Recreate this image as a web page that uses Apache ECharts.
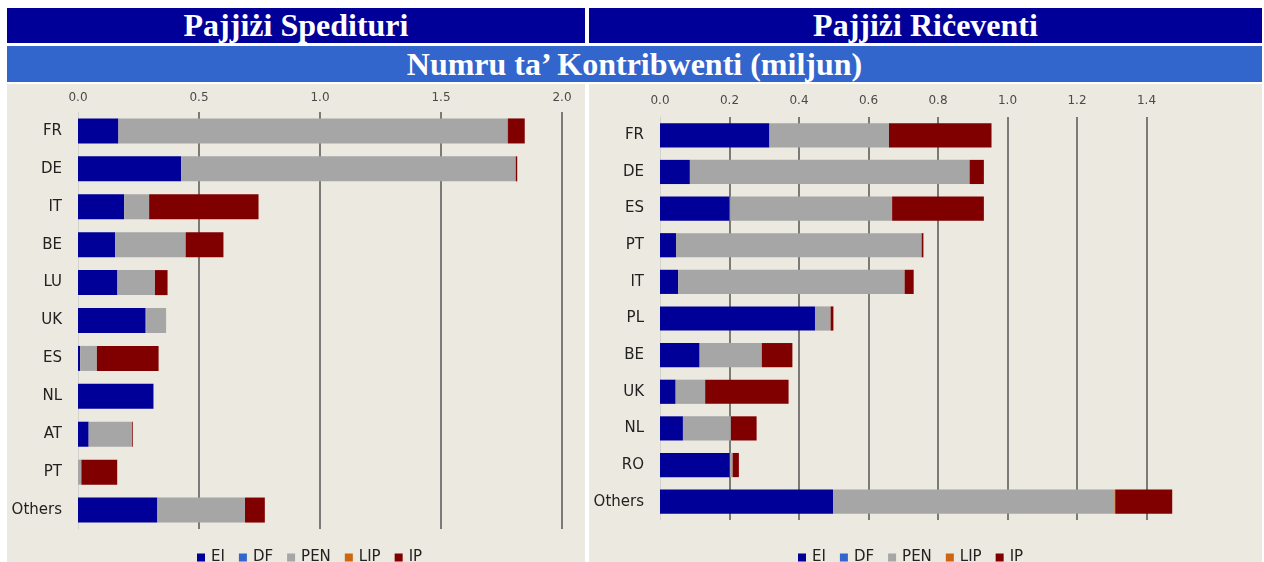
<!DOCTYPE html>
<html>
<head>
<meta charset="utf-8">
<script src="https://cdn.jsdelivr.net/npm/echarts@6/dist/echarts.min.js"></script>
<style>
  html, body { margin: 0; padding: 0; background: #fff; }
  body { position: relative; width: 1264px; height: 562px; overflow: hidden; }
  .bar { position: absolute; color: #fff; font-family: "Liberation Serif", "Times New Roman", serif;
         font-weight: bold; font-size: 32px; text-align: center; }
  .panel { position: absolute; top: 84px; height: 478px; }
</style>
</head>
<body>
<div class="bar" style="left:7px;top:8px;width:578px;height:35px;line-height:35px;background:#000099;">Pajjiżi Spedituri</div>
<div class="bar" style="left:589px;top:8px;width:673px;height:35px;line-height:35px;background:#000099;">Pajjiżi Riċeventi</div>
<div class="bar" style="left:7px;top:46px;width:1255px;height:36px;line-height:36px;background:#3366CC;">Numru ta’ Kontribwenti (miljun)</div>
<div id="left" class="panel" style="left:7px;width:578px;"></div>
<div id="right" class="panel" style="left:589px;width:673px;"></div>
<script>
// Sending countries (million contributors)
var sendCats = ['FR', 'DE', 'IT', 'BE', 'LU', 'UK', 'ES', 'NL', 'AT', 'PT', 'Others'];
var sendEI  = [0.167, 0.426, 0.191, 0.153, 0.163, 0.279, 0.009, 0.310, 0.044, 0.000, 0.328];
var sendDF  = [0.000, 0.000, 0.000, 0.000, 0.000, 0.003, 0.000, 0.003, 0.000, 0.000, 0.000];
var sendPEN = [1.607, 1.383, 0.103, 0.292, 0.155, 0.082, 0.069, 0.000, 0.180, 0.014, 0.362];
var sendLIP = [0.003, 0.000, 0.000, 0.000, 0.000, 0.000, 0.000, 0.000, 0.000, 0.000, 0.000];
var sendIP  = [0.069, 0.006, 0.452, 0.156, 0.052, 0.000, 0.255, 0.000, 0.003, 0.148, 0.082];

// Receiving countries (million contributors)
var recvCats = ['FR', 'DE', 'ES', 'PT', 'IT', 'PL', 'BE', 'UK', 'NL', 'RO', 'Others'];
var recvEI  = [0.315, 0.086, 0.200, 0.046, 0.052, 0.446, 0.114, 0.045, 0.066, 0.201, 0.498];
var recvDF  = [0.000, 0.000, 0.002, 0.000, 0.000, 0.000, 0.000, 0.000, 0.000, 0.000, 0.000];
var recvPEN = [0.344, 0.805, 0.466, 0.707, 0.652, 0.045, 0.179, 0.085, 0.138, 0.008, 0.810];
var recvLIP = [0.000, 0.000, 0.000, 0.000, 0.000, 0.000, 0.000, 0.000, 0.000, 0.000, 0.002];
var recvIP  = [0.295, 0.041, 0.264, 0.005, 0.026, 0.008, 0.088, 0.240, 0.074, 0.018, 0.164];

var seriesNames = ['EI', 'DF', 'PEN', 'LIP', 'IP'];
var colors = ['#000099', '#3366CC', '#A6A6A6', '#CC6611', '#800000'];
var font = '"DejaVu Sans", Verdana, sans-serif';

function buildOption(cats, data, cfg) {
  return {
    backgroundColor: '#ECE9E0',
    animation: false,
    color: colors,
    legend: {
      data: seriesNames, left: cfg.legendLeft, top: 461,
      itemWidth: 8, itemHeight: 8, itemGap: 14, icon: 'rect',
      textStyle: { fontFamily: font, fontSize: 15, lineHeight: 15, color: '#222', padding: [0, 0, 0, 1] }
    },
    grid: { left: cfg.left, top: cfg.top, width: cfg.width, height: cfg.height, containLabel: false },
    xAxis: {
      type: 'value', position: 'top', min: 0, max: cfg.max, interval: cfg.interval,
      axisLine: { show: false }, axisTick: { show: false },
      axisLabel: {
        fontFamily: font, fontSize: 12, color: '#4a4a4a', margin: cfg.labelMargin,
        showMaxLabel: cfg.showMax,
        formatter: function(v) { return v.toFixed(1); }
      },
      splitLine: { show: true, showMinLine: false, showMaxLine: cfg.showMax,
                   lineStyle: { color: '#555', width: 1.5 } }
    },
    yAxis: {
      type: 'category', data: cats, inverse: true,
      axisLine: { show: true, lineStyle: { color: '#d4d2cc', width: 1 } },
      axisTick: { show: false },
      axisLabel: { fontFamily: font, fontSize: 15, color: '#222', margin: 16 }
    },
    series: data.map(function(vals, i) {
      return {
        name: seriesNames[i], type: 'bar', stack: 'total', data: vals,
        barWidth: '66%', itemStyle: { color: colors[i] }
      };
    })
  };
}

var leftChart = echarts.init(document.getElementById('left'));
leftChart.setOption(buildOption(sendCats, [sendEI, sendDF, sendPEN, sendLIP, sendIP], {
  left: 71, top: 28, width: 484, height: 417, max: 2.0, interval: 0.5,
  labelMargin: 8, showMax: true, legendLeft: 185
}));

var rightChart = echarts.init(document.getElementById('right'));
rightChart.setOption(buildOption(recvCats, [recvEI, recvDF, recvPEN, recvLIP, recvIP], {
  left: 71, top: 33, width: 556, height: 403, max: 1.6, interval: 0.2,
  labelMargin: 10, showMax: false, legendLeft: 204
}));
</script>
</body>
</html>
